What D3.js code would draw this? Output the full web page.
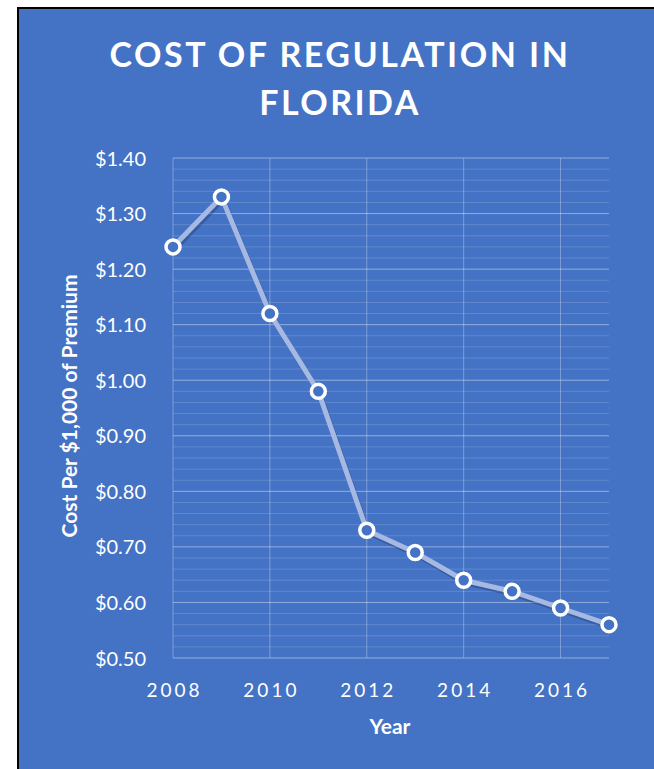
<!DOCTYPE html>
<html><head><meta charset="utf-8">
<script src="https://cdn.jsdelivr.net/npm/d3@7"></script>
<style>body{margin:0;background:#fff;}svg{display:block;}</style>
</head><body>
<script>
const years = [2008, 2009, 2010, 2011, 2012, 2013, 2014, 2015, 2016, 2017];
const costs = [1.24, 1.33, 1.12, 0.98, 0.73, 0.69, 0.64, 0.62, 0.59, 0.56];
const xTicks = [2008, 2010, 2012, 2014, 2016];
const yTicks = [0.5, 0.6, 0.7, 0.8, 0.9, 1.0, 1.1, 1.2, 1.3, 1.4];
const titleLines = ["COST OF REGULATION IN", "FLORIDA"];

const W = 654, H = 769;
const svg = d3.select("body").append("svg").attr("width", W).attr("height", H);
const font = "Lato, 'Open Sans', sans-serif";

svg.append("rect").attr("x", 17).attr("y", 7).attr("width", W - 17).attr("height", H - 7).attr("fill", "#000");
svg.append("rect").attr("x", 19).attr("y", 9).attr("width", W - 19).attr("height", H - 9).attr("fill", "#4472C4");

const x = d3.scaleLinear().domain([2008, 2017]).range([173, 609]);
const y = d3.scaleLinear().domain([0.5, 1.4]).range([658, 158]);

// minor gridlines
const minor = d3.range(0.5, 1.401, 0.02);
svg.append("g").selectAll("line").data(minor).join("line")
  .attr("x1", x(2008)).attr("x2", x(2017)).attr("y1", d => y(d)).attr("y2", d => y(d))
  .attr("stroke", "rgba(255,255,255,0.16)").attr("stroke-width", 1);
// major gridlines
svg.append("g").selectAll("line").data(yTicks).join("line")
  .attr("x1", x(2008)).attr("x2", x(2017)).attr("y1", d => y(d)).attr("y2", d => y(d))
  .attr("stroke", "rgba(255,255,255,0.3)").attr("stroke-width", 1);
// vertical gridlines
svg.append("g").selectAll("line").data(xTicks).join("line")
  .attr("x1", d => x(d)).attr("x2", d => x(d)).attr("y1", y(1.4)).attr("y2", y(0.5))
  .attr("stroke", "rgba(255,255,255,0.3)").attr("stroke-width", 1);

// y axis labels
const yAxis = d3.axisLeft(y).tickValues(yTicks).tickSize(0).tickPadding(0).tickFormat(d => "$" + d3.format(".2f")(d));
const gy = svg.append("g").attr("transform", "translate(146,0)").call(yAxis);
gy.select(".domain").remove();
gy.selectAll("text").attr("fill", "#fff").attr("font-family", font).attr("font-size", 20).attr("dy", "0.35em");

// x axis labels
const xAxis = d3.axisBottom(x).tickValues(xTicks).tickSize(0).tickPadding(0).tickFormat(d3.format("d"));
const gx = svg.append("g").attr("transform", "translate(1,690)").call(xAxis);
gx.select(".domain").remove();
gx.selectAll("text").attr("fill", "#fff").attr("font-family", font).attr("font-size", 19)
  .attr("letter-spacing", "3px").attr("dy", "0.35em");

// line shadow
const line = d3.line().x((d, i) => x(years[i])).y(d => y(d));
svg.append("path").datum(costs).attr("d", line).attr("fill", "none")
  .attr("stroke", "rgba(30,50,100,0.35)").attr("stroke-width", 5).attr("transform", "translate(1.5,2.5)")
  .attr("stroke-linejoin", "round");
svg.append("path").datum(costs).attr("d", line).attr("fill", "none")
  .attr("stroke", "#a5b9e3").attr("stroke-width", 5).attr("stroke-linejoin", "round");

svg.append("g").selectAll("circle").data(costs).join("circle")
  .attr("cx", (d, i) => x(years[i])).attr("cy", d => y(d)).attr("r", 7)
  .attr("fill", "#4472C4").attr("stroke", "#fff").attr("stroke-width", 3.5);

// title
svg.append("g").selectAll("text").data(titleLines).join("text")
  .attr("x", 340).attr("y", (d, i) => 67 + i * 48).attr("text-anchor", "middle")
  .attr("fill", "#fff").attr("font-family", font).attr("font-weight", "bold")
  .attr("font-size", 34).attr("letter-spacing", "2.5px").text(d => d);

// axis titles
svg.append("text").attr("x", 390).attr("y", 734).attr("text-anchor", "middle")
  .attr("fill", "#fff").attr("font-family", font).attr("font-weight", "bold").attr("font-size", 21).text("Year");
svg.append("text").attr("transform", "translate(77,406) rotate(-90)").attr("text-anchor", "middle")
  .attr("fill", "#fff").attr("font-family", font).attr("font-weight", "bold").attr("font-size", 21)
  .text("Cost Per $1,000 of Premium");
</script>
</body></html>
